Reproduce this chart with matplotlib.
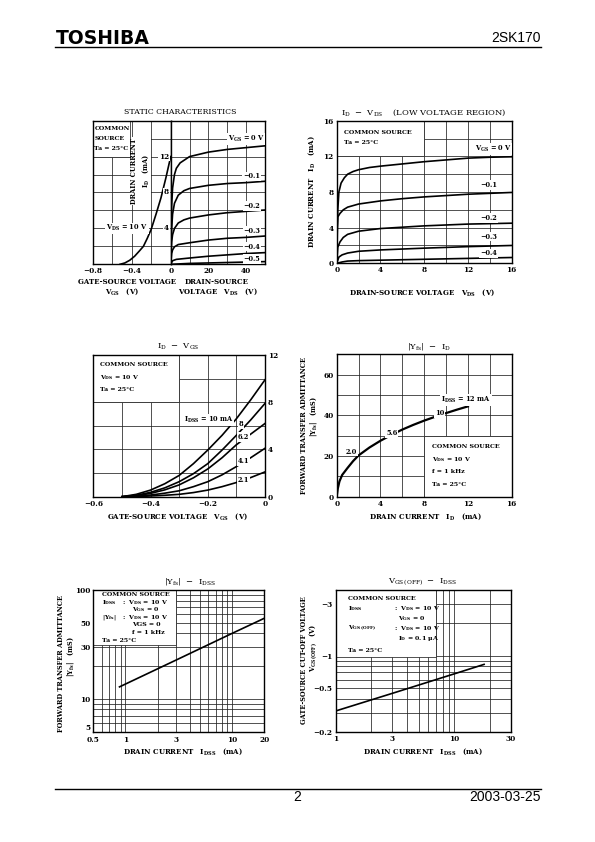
import matplotlib
matplotlib.use('Agg')
import matplotlib.pyplot as plt
from matplotlib.patches import Rectangle

plt.rcParams['font.family'] = ['DejaVu Serif']
plt.rcParams['font.weight'] = 'bold'
plt.rcParams['mathtext.default'] = 'regular'

# ---- data ----
# static characteristics, transfer curve (VDS = 10 V)
st_vgs = [-0.52, -0.47, -0.42, -0.37, -0.32, -0.28, -0.24, -0.2, -0.15, -0.1, -0.05, 0]
st_id = [0, 0.15, 0.45, 0.9, 1.5, 2.0, 2.9, 3.9, 5.6, 7.4, 9.6, 12]

# static characteristics, output curves (VDS 0..50 V)
out_vds = {
    '0': [0, 0.5, 1, 2, 3, 5, 10, 20, 30, 40, 50],
    '-0.1': [0, 0.5, 1, 2, 4, 7, 10, 20, 30, 40, 50],
    '-0.2': [0, 0.5, 1, 2, 4, 7, 10, 20, 30, 40, 50],
    '-0.3': [0, 0.5, 1, 2, 4, 10, 20, 30, 40, 50],
    '-0.4': [0, 1, 3, 10, 20, 30, 40, 50],
    '-0.5': [0, 10, 30, 50],
}
out_id = {
    '0': [0, 6.5, 8.5, 10.0, 10.7, 11.3, 12.0, 12.5, 12.8, 13.0, 13.2],
    '-0.1': [0, 4.0, 5.6, 6.8, 7.7, 8.2, 8.45, 8.8, 9.0, 9.1, 9.25],
    '-0.2': [0, 2.5, 3.3, 4.0, 4.6, 4.95, 5.15, 5.5, 5.75, 5.9, 6.05],
    '-0.3': [0, 1.2, 1.6, 1.95, 2.2, 2.4, 2.7, 2.9, 3.0, 3.15],
    '-0.4': [0, 0.4, 0.55, 0.7, 0.9, 1.05, 1.2, 1.3],
    '-0.5': [0, 0.1, 0.2, 0.3],
}
out_lbl = ['V$_{GS}$ = 0 V', '\u22120.1', '\u22120.2', '\u22120.3', '\u22120.4', '\u22120.5']
out_lbl_y = [14.0, 9.8, 6.5, 3.75, 1.97, 0.56]

# ID - VDS low voltage region
lv_vds = {
    '0': [0, 0.1, 0.2, 0.4, 0.7, 1, 1.5, 2, 3, 4, 6, 8, 10, 12, 14, 16],
    '-0.1': [0, 0.05, 0.1, 0.3, 0.6, 1, 2, 4, 6, 8, 10, 12, 14, 16],
    '-0.2': [0, 0.1, 0.3, 0.6, 1, 2, 4, 6, 8, 12, 16],
    '-0.3': [0, 0.2, 0.5, 1, 2, 4, 8, 12, 16],
    '-0.4': [0, 0.5, 1, 2, 4, 8, 12, 16],
}
lv_id = {
    '0': [0, 6, 8, 9.0, 9.6, 10.0, 10.3, 10.5, 10.75, 10.9, 11.15, 11.4, 11.6, 11.8, 11.9, 11.95],
    '-0.1': [0, 4, 5.2, 5.6, 6.0, 6.3, 6.65, 7.0, 7.25, 7.45, 7.6, 7.75, 7.85, 7.95],
    '-0.2': [0, 1.8, 2.4, 2.9, 3.25, 3.6, 3.9, 4.05, 4.2, 4.4, 4.5],
    '-0.3': [0, 0.7, 0.95, 1.15, 1.35, 1.5, 1.7, 1.87, 2.0],
    '-0.4': [0, 0.15, 0.25, 0.3, 0.35, 0.45, 0.55, 0.65],
}
lv_lbl = ['V$_{GS}$ = 0 V', '\u22120.1', '\u22120.2', '\u22120.3', '\u22120.4']
lv_lbl_y = [12.8, 8.8, 5.05, 3.0, 1.1]

# ID - VGS for several IDSS grades
tr_vgs = [-0.5, -0.45, -0.4, -0.35, -0.3, -0.25, -0.2, -0.15, -0.1, -0.05, 0]
tr_id = {
    '10': [0, 0.2, 0.56, 1.1, 1.8, 2.8, 3.95, 5.2, 6.6, 8.2, 9.9],
    '8': [0, 0.12, 0.37, 0.75, 1.27, 1.95, 2.8, 3.95, 5.2, 6.5, 7.9],
    '6.2': [0, 0.08, 0.28, 0.58, 1.0, 1.6, 2.35, 3.3, 4.4, 5.3, 6.2],
    '4.1': [0, 0.03, 0.14, 0.3, 0.5, 0.85, 1.27, 1.85, 2.55, 3.3, 4.1],
    '2.1': [0, 0.01, 0.06, 0.12, 0.2, 0.35, 0.56, 0.85, 1.2, 1.62, 2.1],
}
tr_lbl = ['I$_{DSS}$ = 10 mA', '8', '6.2', '4.1', '2.1']
tr_lbl_xy = [(-0.11, 6.5), (-0.084, 6.13), (-0.076, 5.08), (-0.076, 3.02), (-0.076, 1.41)]

# |Yfs| - ID
yf_id = [0, 0.1, 0.25, 0.5, 1, 1.5, 2, 3, 4, 5, 6, 7, 8, 9, 10, 11, 12]
yf_val = [0, 4, 7.5, 10.7, 14.2, 17.5, 20.3, 24.2, 27.5, 30.4, 33, 35.3, 37.4, 39.3, 41.1, 42.8, 44.4]
yf_lbl = ['2.0', '5.6', '10', 'I$_{DSS}$ = 12 mA']
yf_lbl_xy = [(1.37, 22.2), (5.03, 31.3), (9.4, 41.1), (11.8, 47.4)]

# |Yfs| - IDSS (log-log)
yi_idss = [0.88, 3, 10, 20]
yi_val = [12.9, 22.8, 40, 55]

# VGS(OFF) - IDSS (log-log)
vo_idss = [1, 3, 10, 17.8]
vo_val = [-0.31, -0.45, -0.68, -0.83]

# ---- page ----
W, H = 595, 842
fig = plt.figure(figsize=(W / 100, H / 100), dpi=100)


def add_ax(x0, y0, x1, y1):
    return fig.add_axes([x0 / W, 1 - y1 / H, (x1 - x0) / W, (y1 - y0) / H])


def ftext(x, y, s, **kw):
    kw.setdefault('fontsize', 5)
    kw.setdefault('va', 'center')
    fig.text(x / W, 1 - y / H, s, **kw)


def style(ax):
    for s in ax.spines.values():
        s.set_linewidth(1.0)
    ax.tick_params(which='both', length=0, pad=2.2, labelsize=5.3)


def grid(ax, xs, ys):
    for x in xs:
        ax.axvline(x, color='#222222', lw=0.55, zorder=1)
    for y in ys:
        ax.axhline(y, color='#222222', lw=0.55, zorder=1)


def box(ax, x0, y0, x1, y1):
    ax.add_patch(Rectangle((x0, y0), x1 - x0, y1 - y0, fc='white', ec='#222222', lw=0.55, zorder=2))


WB = dict(boxstyle='square,pad=0.12', fc='white', ec='none')
BT = 4.5  # note text inside the chart boxes

# header / footer
ftext(56, 38, 'TOSHIBA', fontfamily='DejaVu Sans', fontweight='heavy', fontsize=13.5, ha='left')
ftext(541, 38, '2SK170', fontfamily='Liberation Sans', fontweight='normal', fontsize=10, ha='right')
fig.add_artist(plt.Line2D([55 / W, 541 / W], [1 - 47 / H, 1 - 47 / H], color='black', lw=1.0))
fig.add_artist(plt.Line2D([55 / W, 541 / W], [1 - 789 / H, 1 - 789 / H], color='black', lw=1.0))
ftext(297, 797, '2', fontfamily='Liberation Sans', fontweight='normal', fontsize=10, ha='center')
ftext(541, 797, '2003-03-25', fontfamily='Liberation Sans', fontweight='normal', fontsize=10, ha='right')

# ---- chart 1: static characteristics ----
a1 = add_ax(92.7, 120.7, 170.7, 264.3)
a1.set_xlim(-0.8, 0)
a1.set_ylim(0, 16)
style(a1)
grid(a1, [-0.6, -0.4, -0.2], [2, 4, 6, 8, 10, 12, 14])
box(a1, -0.8, 12, -0.42, 16)
a1.plot(st_vgs, st_id, color='black', lw=1.2, zorder=3)
a1.set_xticks([-0.8, -0.4], ['\u22120.8', '\u22120.4'])
a1.set_yticks([])
a1.text(-0.45, 4, 'V$_{DS}$ = 10 V', fontsize=4.8, ha='center', va='center', bbox=WB, zorder=4)

b1 = add_ax(170.7, 120.7, 265, 264.3)
b1.set_xlim(0, 50)
b1.set_ylim(0, 16)
style(b1)
grid(b1, [10, 20, 30, 40], [2, 4, 6, 8, 10, 12, 14])
for k in out_vds:
    b1.plot(out_vds[k], out_id[k], color='black', lw=1.2, zorder=3)
for s, y in zip(out_lbl, out_lbl_y):
    b1.text(43 if s[0] != 'V' else 40, y, s, fontsize=4.8, ha='center', va='center', bbox=WB, zorder=4)
b1.set_xticks([0, 20, 40], ['0', '20', '40'])
b1.set_yticks([])
for v in [4, 8, 12]:
    b1.text(-0.9, v, str(v), fontsize=5.3, ha='right', va='center', bbox=WB, zorder=5, clip_on=False)

ftext(180, 112, 'STATIC CHARACTERISTICS', fontsize=5.6, fontweight='normal', ha='center')
ftext(94.5, 129, 'COMMON', ha='left', fontsize=BT)
ftext(94.5, 139, 'SOURCE', ha='left', fontsize=BT)
ftext(94.5, 148.3, 'Ta = 25\u00b0C', ha='left', fontsize=BT)
ftext(140.5, 171, 'DRAIN CURRENT\nI$_D$   (mA)', rotation=90, ha='center', linespacing=1.3, fontsize=4.8,
      multialignment='center', bbox=dict(boxstyle='square,pad=0.1', fc='white', ec='none'))
ftext(127, 281.7, 'GATE-SOURCE VOLTAGE', ha='center')
ftext(122, 291.7, 'V$_{GS}$   (V)', ha='center')
ftext(217, 281.7, 'DRAIN-SOURCE', ha='center')
ftext(218, 291.7, 'VOLTAGE   V$_{DS}$   (V)', ha='center')

# ---- chart 2: ID - VDS low voltage ----
a2 = add_ax(336.7, 120.7, 511.7, 263.3)
a2.set_xlim(0, 16)
a2.set_ylim(0, 16)
style(a2)
grid(a2, range(2, 16, 2), range(2, 16, 2))
box(a2, 0, 12, 8, 16)
for k in lv_vds:
    a2.plot(lv_vds[k], lv_id[k], color='black', lw=1.2, zorder=3)
for s, y in zip(lv_lbl, lv_lbl_y):
    a2.text(14.3 if s[0] == 'V' else 13.9, y, s, fontsize=4.8, ha='center', va='center', bbox=WB, zorder=4)
a2.set_xticks([0, 4, 8, 12, 16])
a2.set_yticks([0, 4, 8, 12, 16])
ftext(424, 113, 'I$_D$  \u2212  V$_{DS}$    (LOW VOLTAGE REGION)', fontsize=6, fontweight='normal', ha='center')
ftext(344.3, 132.3, 'COMMON SOURCE', ha='left', fontsize=BT)
ftext(344.3, 142.7, 'Ta = 25\u00b0C', ha='left', fontsize=BT)
ftext(311.7, 192, 'DRAIN CURRENT   I$_D$   (mA)', rotation=90, ha='center')
ftext(422, 292.7, 'DRAIN-SOURCE VOLTAGE   V$_{DS}$   (V)', ha='center')

# ---- chart 3: ID - VGS ----
a3 = add_ax(93.3, 355, 265, 496.7)
a3.set_xlim(-0.6, 0)
a3.set_ylim(0, 12)
style(a3)
grid(a3, [-0.5, -0.4, -0.3, -0.2, -0.1], [2, 4, 6, 8, 10])
box(a3, -0.6, 8, -0.3, 12)
for k in tr_id:
    a3.plot(tr_vgs, tr_id[k], color='black', lw=1.2, zorder=3)
for s, (x, y) in zip(tr_lbl, tr_lbl_xy):
    a3.text(x, y, s, fontsize=4.8, ha='right' if len(s) > 3 else 'center', va='center', bbox=WB, zorder=4)
a3.set_xticks([-0.6, -0.4, -0.2, 0], ['\u22120.6', '\u22120.4', '\u22120.2', '0'])
a3.yaxis.tick_right()
a3.set_yticks([0, 4, 8, 12])
ftext(178, 346.7, 'I$_D$  \u2212  V$_{GS}$', fontsize=6, fontweight='normal', ha='center')
ftext(99.7, 365, 'COMMON SOURCE', ha='left', fontsize=BT)
ftext(99.7, 377.3, 'V$_{DS}$ = 10 V', ha='left', fontsize=BT)
ftext(99.7, 389.3, 'Ta = 25\u00b0C', ha='left', fontsize=BT)
ftext(178, 517, 'GATE-SOURCE VOLTAGE   V$_{GS}$   (V)', ha='center')

# ---- chart 4: |Yfs| - ID ----
a4 = add_ax(336.7, 354.3, 511.7, 496.7)
a4.set_xlim(0, 16)
a4.set_ylim(0, 70)
style(a4)
grid(a4, range(2, 16, 2), range(10, 70, 10))
box(a4, 8, 0, 16, 30)
a4.plot(yf_id, yf_val, color='black', lw=1.6, zorder=3)
for s, (x, y) in zip(yf_lbl, yf_lbl_xy):
    a4.text(x, y, s, fontsize=4.8, ha='center', va='center', bbox=WB, zorder=4)
a4.set_xticks([0, 4, 8, 12, 16])
a4.set_yticks([0, 20, 40, 60])
ftext(429, 346.7, '|Y$_{fs}$|  \u2212  I$_D$', fontsize=6, fontweight='normal', ha='center')
ftext(431.7, 446.7, 'COMMON SOURCE', ha='left', fontsize=BT)
ftext(431.7, 460, 'V$_{DS}$ = 10 V', ha='left', fontsize=BT)
ftext(431.7, 471.7, 'f = 1 kHz', ha='left', fontsize=BT)
ftext(431.7, 485, 'Ta = 25\u00b0C', ha='left', fontsize=BT)
ftext(304.5, 426, 'FORWARD TRANSFER ADMITTANCE', rotation=90, ha='center', fontsize=4.8)
ftext(313.5, 417, '|Y$_{fs}$|   (mS)', rotation=90, ha='center', fontsize=4.8)
ftext(425, 516.7, 'DRAIN CURRENT   I$_D$   (mA)', ha='center')

# ---- chart 5: |Yfs| - IDSS ----
a5 = add_ax(93.3, 590, 264.3, 731.7)
a5.set_xscale('log')
a5.set_yscale('log')
a5.set_xlim(0.5, 20)
a5.set_ylim(5, 100)
style(a5)
a5.tick_params(axis='x', pad=3.2)
a5.tick_params(axis='y', pad=1.8)
grid(a5, [0.6, 0.7, 0.8, 0.9, 1, 2, 3, 4, 5, 6, 7, 8, 9, 10],
     [6, 7, 8, 9, 10, 20, 30, 40, 50, 60, 70, 80, 90])
box(a5, 0.5, 31, 3.0, 100)
a5.plot(yi_idss, yi_val, color='black', lw=1.2, zorder=3)
a5.minorticks_off()
a5.set_xticks([0.5, 1, 3, 10, 20], ['0.5', '1', '3', '10', '20'])
a5.set_yticks([5, 10, 30, 50, 100], ['5', '10', '30', '50', '100'])
a5.get_yticklabels()[0].set_va('bottom')
ftext(190, 581.7, '|Y$_{fs}$|  \u2212  I$_{DSS}$', fontsize=6, fontweight='normal', ha='center')
ftext(101.7, 595, 'COMMON SOURCE', ha='left', fontsize=BT)
ftext(101.7, 602.3, 'I$_{DSS}$', ha='left', fontsize=BT)
ftext(122.5, 602.3, ':  V$_{DS}$ = 10 V', ha='left', fontsize=BT)
ftext(132, 610, 'V$_{GS}$ = 0', ha='left', fontsize=BT)
ftext(101.7, 617.3, '|Y$_{fs}$|', ha='left', fontsize=BT)
ftext(122.5, 617.3, ':  V$_{DS}$ = 10 V', ha='left', fontsize=BT)
ftext(132, 625, 'VGS = 0', ha='left', fontsize=BT)
ftext(132, 632.3, 'f = 1 kHz', ha='left', fontsize=BT)
ftext(101.7, 640, 'Ta = 25\u00b0C', ha='left', fontsize=BT)
ftext(61.2, 664, 'FORWARD TRANSFER ADMITTANCE', rotation=90, ha='center', fontsize=4.8)
ftext(70, 657, '|Y$_{fs}$|   (mS)', rotation=90, ha='center', fontsize=4.8)
ftext(183, 751.7, 'DRAIN CURRENT   I$_{DSS}$   (mA)', ha='center')

# ---- chart 6: VGS(OFF) - IDSS ----
a6 = add_ax(335.7, 590, 511, 731.7)
a6.set_xscale('log')
a6.set_yscale('log')
a6.set_xlim(1, 30)
a6.set_ylim(0.2, 4)
style(a6)
grid(a6, [2, 3, 4, 5, 6, 7, 8, 9, 10, 20],
     [0.3, 0.4, 0.5, 0.6, 0.7, 0.8, 0.9, 1, 2, 3])
box(a6, 1, 0.97, 7, 4)
a6.plot(vo_idss, [-v for v in vo_val], color='black', lw=1.2, zorder=3)
a6.minorticks_off()
a6.set_xticks([1, 3, 10, 30], ['1', '3', '10', '30'])
a6.set_yticks([0.2, 0.5, 1, 3], ['\u22120.2', '\u22120.5', '\u22121', '\u22123'])
ftext(423, 581.7, 'V$_{GS\\,(OFF)}$  \u2212  I$_{DSS}$', fontsize=6, fontweight='normal', ha='center')
ftext(348.3, 599, 'COMMON SOURCE', ha='left', fontsize=BT)
ftext(348.3, 609, 'I$_{DSS}$', ha='left', fontsize=BT)
ftext(394, 609, ':  V$_{DS}$ = 10 V', ha='left', fontsize=BT)
ftext(398.3, 618.3, 'V$_{GS}$ = 0', ha='left', fontsize=BT)
ftext(348.3, 628.3, 'V$_{GS\\,(OFF)}$', ha='left', fontsize=BT)
ftext(394, 628.3, ':  V$_{DS}$ = 10 V', ha='left', fontsize=BT)
ftext(398.3, 638.3, 'I$_D$ = 0.1 \u03bcA', ha='left', fontsize=BT)
ftext(348.3, 650, 'Ta = 25\u00b0C', ha='left', fontsize=BT)
ftext(303.5, 660, 'GATE-SOURCE CUT-OFF VOLTAGE', rotation=90, ha='center', fontsize=4.8)
ftext(313, 648, 'V$_{GS\\,(OFF)}$   (V)', rotation=90, ha='center', fontsize=4.8)
ftext(423, 751.7, 'DRAIN CURRENT   I$_{DSS}$   (mA)', ha='center')

fig.savefig('out.png', dpi=100, facecolor='white')
